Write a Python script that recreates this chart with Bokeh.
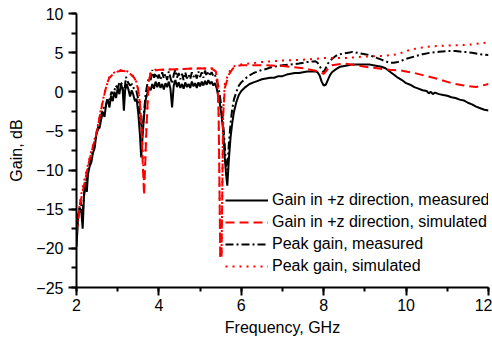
from bokeh.plotting import figure
from bokeh.models import Legend, LegendItem, Range1d, SingleIntervalTicker
from bokeh.embed import file_html
from bokeh.resources import INLINE

# ---- data ----
gm_f = [2.00, 2.04, 2.08, 2.12, 2.15, 2.18, 2.22, 2.25, 2.28, 2.32, 2.36, 2.40, 2.44, 2.48, 2.52, 2.56,
        2.60, 2.64, 2.68, 2.72, 2.76, 2.80, 2.84, 2.88, 2.92, 2.96, 3.00, 3.04, 3.08, 3.12, 3.15, 3.18,
        3.22, 3.26, 3.30, 3.34, 3.38, 3.42, 3.46, 3.50, 3.54, 3.57, 3.60, 3.64, 3.68, 3.72, 3.76, 3.80,
        3.84, 3.88, 3.92, 3.96, 4.00, 4.04, 4.08, 4.12, 4.16, 4.20, 4.24, 4.28, 4.32, 4.36, 4.40, 4.44,
        4.48, 4.52, 4.56, 4.60, 4.64, 4.68, 4.72, 4.76, 4.80, 4.84, 4.88, 4.92, 4.96, 5.00, 5.04, 5.08,
        5.12, 5.16, 5.20, 5.24, 5.28, 5.32, 5.36, 5.40, 5.44, 5.48, 5.52, 5.56, 5.60, 5.63, 5.66, 5.70,
        5.74, 5.78, 5.82, 5.88, 5.94, 6.00, 6.10, 6.20, 6.30, 6.40, 6.50, 6.60, 6.70, 6.80, 6.90, 7.00,
        7.10, 7.20, 7.30, 7.40, 7.50, 7.60, 7.70, 7.80, 7.85, 7.90, 7.95, 8.00, 8.05, 8.10, 8.15, 8.20,
        8.30, 8.40, 8.50, 8.60, 8.70, 8.80, 8.90, 9.00, 9.10, 9.20, 9.30, 9.40, 9.50, 9.60, 9.70, 9.80,
        9.90, 10.00, 10.10, 10.20, 10.30, 10.40, 10.50, 10.55, 10.60, 10.65, 10.70, 10.80, 10.90, 11.00,
        11.10, 11.20, 11.30, 11.40, 11.50, 11.60, 11.70, 11.80, 11.90, 12.00]
gm_v = [-19.8, -16.0, -14.8, -15.5, -17.5, -13.5, -11.5, -12.8, -10.5, -9.5, -9.0, -7.8, -7.2, -5.5, -4.8, -4.6,
        -3.5, -2.6, -3.2, -1.5, -1.0, -2.0, -0.5, -1.2, 0.0, -0.8, 0.5, -0.3, 1.0, 0.3, -2.4, 0.2,
        1.0, 0.3, -0.6, 0.2, -0.4, -1.2, -0.9, -2.8, -5.5, -8.4, -6.0, -3.0, -1.0, -0.2, 0.5, 0.2,
        1.0, 0.4, 1.3, 0.6, 1.2, 0.5, 1.0, 0.3, 1.1, 0.6, 1.3, 0.4, -2.0, 0.8, 1.5, 0.6,
        1.2, 0.5, 1.0, 0.4, 1.2, 0.6, 1.0, 0.5, 1.3, 0.7, 1.1, 0.5, 1.2, 0.7, 1.3, 0.8,
        1.4, 0.9, 1.5, 1.0, 1.3, 0.8, 1.1, 0.5, -0.5, -1.5, -3.0, -5.0, -8.5, -10.5, -12.0, -8.5,
        -5.8, -4.0, -2.6, -1.3, -0.4, 0.1, 0.6, 1.0, 1.2, 1.4, 1.6, 1.7, 1.8, 1.8, 2.0, 2.0,
        2.2, 2.3, 2.4, 2.4, 2.5, 2.6, 2.6, 2.6, 2.5, 2.1, 1.3, 0.8, 0.9, 1.5, 2.1, 2.5,
        2.9, 3.2, 3.3, 3.4, 3.5, 3.5, 3.5, 3.5, 3.5, 3.4, 3.3, 3.2, 3.0, 2.6, 2.2, 1.8,
        1.5, 1.1, 0.9, 0.6, 0.4, 0.2, 0.1, -0.2, 0.0, -0.3, -0.1, -0.3, -0.4, -0.5,
        -0.7, -0.8, -1.0, -1.1, -1.4, -1.6, -1.9, -2.1, -2.3, -2.4]

pm_f = [2.00, 2.05, 2.10, 2.15, 2.20, 2.25, 2.30, 2.35, 2.40, 2.45, 2.50, 2.55, 2.60, 2.65, 2.70, 2.75,
        2.80, 2.85, 2.90, 2.95, 3.00, 3.05, 3.10, 3.15, 3.20, 3.25, 3.30, 3.35, 3.40, 3.45, 3.50, 3.55,
        3.60, 3.64, 3.68, 3.72, 3.76, 3.80, 3.84, 3.88, 3.92, 3.96, 4.00, 4.04, 4.08, 4.12, 4.16, 4.20,
        4.24, 4.28, 4.32, 4.36, 4.40, 4.44, 4.48, 4.52, 4.56, 4.60, 4.64, 4.68, 4.72, 4.76, 4.80, 4.84,
        4.88, 4.92, 4.96, 5.00, 5.04, 5.08, 5.12, 5.16, 5.20, 5.24, 5.28, 5.32, 5.36, 5.40, 5.44, 5.48,
        5.52, 5.56, 5.60, 5.63, 5.66, 5.70, 5.74, 5.78, 5.82, 5.88, 5.94, 6.00, 6.10, 6.20, 6.30, 6.40,
        6.50, 6.60, 6.70, 6.80, 6.90, 7.00, 7.20, 7.40, 7.60, 7.80, 7.85, 7.90, 7.95, 8.00, 8.05, 8.10,
        8.20, 8.30, 8.40, 8.50, 8.60, 8.70, 8.80, 8.90, 9.00, 9.10, 9.20, 9.30, 9.40, 9.50, 9.60, 9.70,
        9.80, 9.90, 10.00, 10.20, 10.40, 10.60, 10.80, 11.00, 11.20, 11.40, 11.60, 11.80, 12.00]
pm_v = [-18.5, -15.5, -14.0, -15.5, -12.0, -11.0, -9.5, -8.5, -7.5, -6.5, -5.0, -4.0, -3.0, -2.0, -2.2, -0.8,
        -1.0, 0.0, -0.3, 0.8, 0.5, 1.3, 1.0, -0.5, 1.9, 1.2, 0.8, 1.0, 0.3, 0.2, -1.0, -3.5,
        -5.0, -2.5, -0.2, 1.0, 1.8, 1.5, 2.8, 1.8, 2.4, 1.6, 2.2, 1.5, 2.5, 1.7, 2.3, 1.5,
        2.6, 1.8, 1.0, 2.2, 2.8, 1.8, 2.4, 1.6, 2.3, 1.5, 2.5, 1.7, 2.2, 1.6, 2.5, 1.9,
        2.3, 1.7, 2.6, 1.9, 2.5, 1.8, 2.7, 2.0, 2.6, 2.2, 2.5, 2.0, 2.2, 1.5, 0.8, -0.5,
        -2.0, -4.0, -7.0, -9.5, -10.0, -6.5, -4.0, -2.2, -1.0, 0.0, 0.8, 1.2, 1.7, 2.1, 2.4, 2.6,
        2.8, 2.9, 3.1, 3.2, 3.3, 3.4, 3.5, 3.6, 3.8, 3.9, 3.7, 3.3, 2.8, 2.5, 3.0, 3.6,
        4.2, 4.6, 4.8, 4.9, 5.0, 5.1, 5.0, 4.9, 4.8, 4.7, 4.5, 4.3, 4.1, 3.9, 3.7, 3.7,
        3.8, 4.0, 4.2, 4.5, 4.8, 5.0, 5.1, 5.2, 5.2, 5.1, 5.0, 4.8, 4.7]

gs_f = [2.00, 2.05, 2.10, 2.20, 2.30, 2.40, 2.50, 2.55, 2.60, 2.65, 2.70, 2.75, 2.80, 2.90, 3.00, 3.10,
        3.20, 3.30, 3.40, 3.45, 3.50, 3.55, 3.58, 3.61, 3.64, 3.67, 3.70, 3.73, 3.76, 3.80, 3.90, 4.00,
        4.50, 5.00, 5.30, 5.38, 5.42, 5.45, 5.47, 5.49, 5.52, 5.54, 5.56, 5.60, 5.70, 5.80, 5.90, 6.00,
        6.50, 7.00, 7.50, 7.80, 7.95, 8.00, 8.10, 8.20, 8.50, 8.80, 9.00, 9.30, 9.60, 9.90, 10.20, 10.50,
        10.80, 11.10, 11.40, 11.70, 12.00]
gs_v = [-18.0, -16.0, -14.0, -11.5, -9.0, -7.0, -5.0, -3.5, -2.2, -1.0, 0.2, 1.2, 1.8, 2.3, 2.6, 2.7,
        2.6, 2.3, 1.8, 1.2, 0.2, -2.0, -5.0, -9.5, -13.2, -9.0, -4.5, -1.0, 1.5, 2.4, 2.7, 2.8,
        2.9, 3.0, 2.9, 2.6, 1.5, -3.0, -12.0, -21.3, -21.3, -12.0, -3.0, 0.5, 2.2, 3.0, 3.3, 3.4,
        3.4, 3.3, 3.0, 2.7, 2.4, 2.3, 2.9, 3.4, 3.6, 3.4, 3.2, 3.0, 2.8, 2.7, 2.4, 2.0,
        1.6, 1.1, 0.8, 0.6, 1.0]

ps_f = [2.00, 2.10, 2.20, 2.30, 2.40, 2.50, 2.60, 2.70, 2.80, 2.90, 3.00, 3.10, 3.20, 3.30, 3.40, 3.45,
        3.50, 3.55, 3.58, 3.61, 3.64, 3.67, 3.70, 3.73, 3.76, 3.80, 3.90, 4.50, 5.00, 5.30, 5.38, 5.42,
        5.45, 5.47, 5.49, 5.52, 5.54, 5.56, 5.60, 5.70, 5.80, 5.90, 6.00, 6.50, 7.00, 7.50, 8.00, 8.50,
        9.00, 9.50, 9.80, 10.00, 10.30, 10.60, 11.00, 11.50, 12.00]
ps_v = [-17.5, -13.5, -11.0, -8.8, -6.8, -4.8, -2.0, 0.3, 1.9, 2.4, 2.7, 2.8, 2.7, 2.4, 1.9, 1.3,
        0.3, -1.5, -4.0, -8.0, -12.0, -8.0, -4.0, -0.8, 1.6, 2.5, 2.8, 2.9, 3.0, 3.0, 2.7, 1.5,
        -3.0, -12.0, -21.0, -21.0, -12.0, -2.5, 1.0, 2.5, 3.2, 3.4, 3.5, 3.8, 4.0, 4.1, 4.3, 4.3,
        4.5, 4.6, 4.8, 5.2, 5.6, 5.8, 5.9, 6.0, 6.3]

labels = ["Gain in +z direction, measured", "Gain in +z direction, simulated",
          "Peak gain, measured", "Peak gain, simulated"]

FONT = "Liberation Sans"

p = figure(width=492, height=340, output_backend="svg", toolbar_location=None,
           x_range=Range1d(2, 12), y_range=Range1d(-25, 10),
           min_border_left=76, min_border_right=4, min_border_top=13, min_border_bottom=53)
p.outline_line_color = None
p.grid.visible = False
p.background_fill_color = "white"

r1 = p.line(gm_f, gm_v, line_color="black", line_width=2)
r3 = p.line(pm_f, pm_v, line_color="black", line_width=2, line_dash="8 3 2 3")
r2 = p.line(gs_f, gs_v, line_color="#ff0000", line_width=2, line_dash="9 5")
r4 = p.line(ps_f, ps_v, line_color="#ff0000", line_width=2, line_dash="2 5")

for ax in (p.xaxis[0], p.yaxis[0]):
    ax.axis_line_width = 2
    ax.major_tick_line_width = 2
    ax.minor_tick_line_width = 2
    ax.major_tick_in = 0
    ax.minor_tick_in = 0
    ax.major_label_text_font = FONT
    ax.major_label_text_font_size = "16px"
    ax.major_label_text_color = "black"
    ax.axis_label_text_font = FONT
    ax.axis_label_text_font_size = "16px"
    ax.axis_label_text_font_style = "normal"
    ax.axis_label_text_color = "black"

p.xaxis.ticker = SingleIntervalTicker(interval=2, num_minor_ticks=2)
p.yaxis.ticker = SingleIntervalTicker(interval=5, num_minor_ticks=2)
p.xaxis.major_tick_out = 8
p.xaxis.minor_tick_out = 4
p.yaxis.major_tick_out = 8
p.yaxis.minor_tick_out = 5
p.xaxis.major_label_standoff = 3
p.yaxis.major_label_standoff = 5
p.xaxis.axis_label = "Frequency, GHz"
p.yaxis.axis_label = "Gain, dB"
p.xaxis.axis_label_standoff = 5
p.yaxis.axis_label_standoff = 8

legend = Legend(items=[LegendItem(label=labels[0], renderers=[r1]),
                       LegendItem(label=labels[1], renderers=[r2]),
                       LegendItem(label=labels[2], renderers=[r3]),
                       LegendItem(label=labels[3], renderers=[r4])],
                location=(149, 11), padding=0, margin=0, spacing=2,
                glyph_width=43, glyph_height=20, label_height=20, label_standoff=4,
                border_line_color=None, background_fill_alpha=0,
                label_text_font=FONT, label_text_font_size="16px", label_text_color="black")
p.add_layout(legend)

open("out.html", "w").write(file_html(p, INLINE))
